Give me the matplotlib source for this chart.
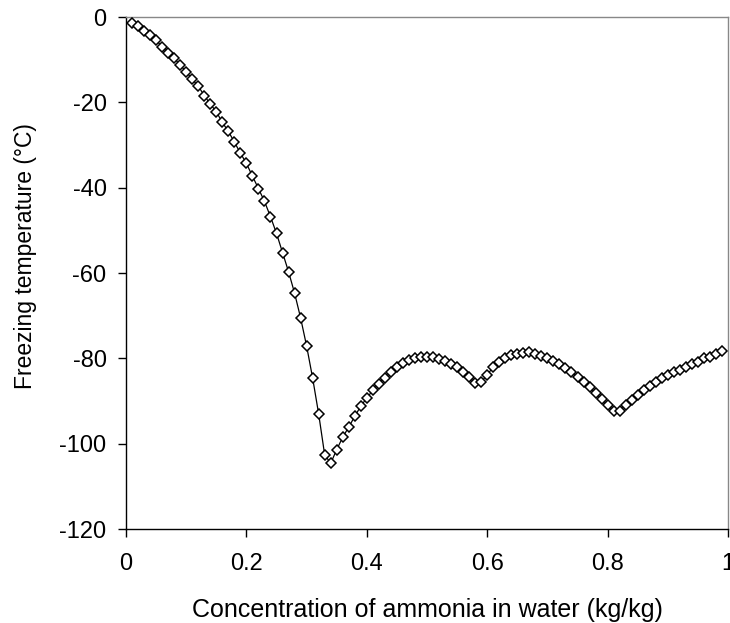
import matplotlib
matplotlib.use("Agg")
import matplotlib.pyplot as plt
import numpy as np

plt.rcParams['font.family'] = ['Liberation Sans', 'DejaVu Sans']

concentration = [0.01, 0.02, 0.03, 0.04, 0.05, 0.06, 0.07, 0.08, 0.09, 0.10,
                 0.11, 0.12, 0.13, 0.14, 0.15, 0.16, 0.17, 0.18, 0.19, 0.20,
                 0.21, 0.22, 0.23, 0.24, 0.25, 0.26, 0.27, 0.28, 0.29, 0.30,
                 0.31, 0.32, 0.33, 0.34, 0.35, 0.36, 0.37, 0.38, 0.39, 0.40,
                 0.41, 0.42, 0.43, 0.44, 0.45, 0.46, 0.47, 0.48, 0.49, 0.50,
                 0.51, 0.52, 0.53, 0.54, 0.55, 0.56, 0.57, 0.58, 0.59, 0.60,
                 0.61, 0.62, 0.63, 0.64, 0.65, 0.66, 0.67, 0.68, 0.69, 0.70,
                 0.71, 0.72, 0.73, 0.74, 0.75, 0.76, 0.77, 0.78, 0.79, 0.80,
                 0.81, 0.82, 0.83, 0.84, 0.85, 0.86, 0.87, 0.88, 0.89, 0.90,
                 0.91, 0.92, 0.93, 0.94, 0.95, 0.96, 0.97, 0.98, 0.99]
freezing_temp = [-1.3, -2.2, -3.2, -4.2, -5.4, -7.0, -8.4, -9.6, -11.3, -12.8,
                 -14.6, -16.2, -18.4, -20.4, -22.2, -24.7, -26.8, -29.3, -31.9, -34.3,
                 -37.3, -40.2, -43.2, -46.8, -50.7, -55.2, -59.7, -64.7, -70.5, -77.1,
                 -84.6, -93.0, -102.6, -104.6, -101.4, -98.5, -96.1, -93.6, -91.2, -89.3,
                 -87.5, -85.9, -84.5, -83.3, -82.1, -81.2, -80.5, -80.0, -79.8, -79.7,
                 -79.8, -80.2, -80.6, -81.3, -82.1, -83.2, -84.4, -85.8, -85.6, -83.8,
                 -82.1, -80.8, -80.0, -79.3, -79.0, -78.8, -78.6, -79.0, -79.4, -80.0,
                 -80.6, -81.3, -82.2, -83.2, -84.3, -85.5, -86.7, -88.2, -89.5, -90.9,
                 -92.3, -92.3, -90.9, -89.8, -88.6, -87.4, -86.5, -85.5, -84.7, -83.9,
                 -83.1, -82.7, -82.0, -81.3, -80.8, -80.0, -79.6, -79.0, -78.2]

x_ticks = [0, 0.2, 0.4, 0.6, 0.8, 1]
x_tick_labels = ['0', '0.2', '0.4', '0.6', '0.8', '1']
y_ticks = [-120, -100, -80, -60, -40, -20, 0]
y_tick_labels = ['-120', '-100', '-80', '-60', '-40', '-20', '0']

W, H = 730, 623
x0, x1, ytop, ybot = 126, 728, 17, 529

fig = plt.figure(figsize=(W / 100, H / 100), dpi=100)
ax = fig.add_axes([x0 / W, 1 - ybot / H, (x1 - x0) / W, (ybot - ytop) / H])

ax.plot(concentration, freezing_temp, color='black', linewidth=0.9,
        marker='D', markersize=5.2, markerfacecolor='white',
        markeredgecolor='black', markeredgewidth=1.1, clip_on=False, zorder=3)

ax.set_xlim(0, 1)
ax.set_ylim(-120, 0)
ax.set_xticks(x_ticks)
ax.set_xticklabels(x_tick_labels)
ax.set_yticks(y_ticks)
ax.set_yticklabels(y_tick_labels)

ax.tick_params(axis='both', direction='out', length=6, width=1, labelsize=17,
               color='black')
ax.tick_params(axis='x', pad=11)
ax.tick_params(axis='y', pad=8)

for side in ['left', 'bottom']:
    ax.spines[side].set_color('black')
    ax.spines[side].set_linewidth(1)
for side in ['top', 'right']:
    ax.spines[side].set_color('#888888')
    ax.spines[side].set_linewidth(1)

ax.set_xlabel('Concentration of ammonia in water (kg/kg)', fontsize=18, va='center')
ax.xaxis.set_label_coords(0.5, (ybot - 610) / (ybot - ytop))
ax.set_ylabel('Freezing temperature (°C)', fontsize=16.5, va='center')
ax.yaxis.set_label_coords((26 - x0) / (x1 - x0), (ybot - 256) / (ybot - ytop))

fig.savefig('out.png', dpi=100)
